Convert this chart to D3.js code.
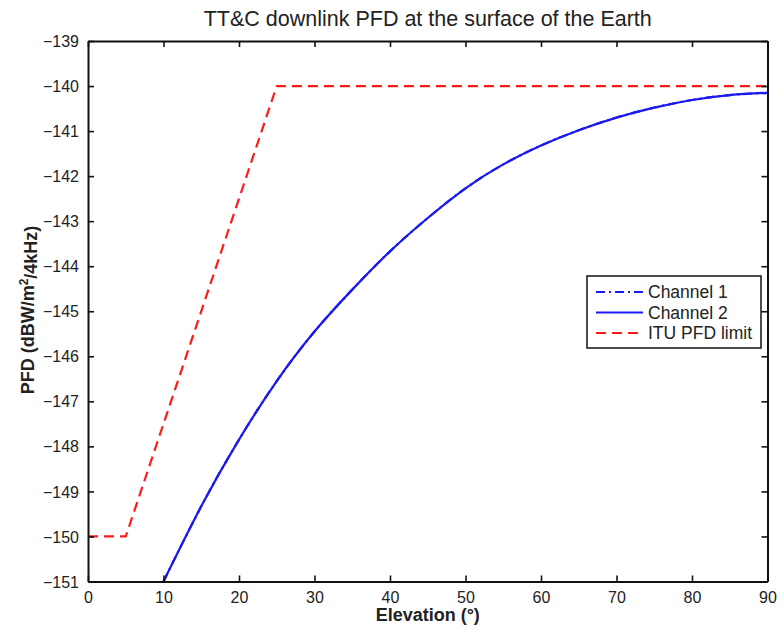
<!DOCTYPE html>
<html>
<head>
<meta charset="utf-8">
<script src="https://cdn.jsdelivr.net/npm/d3@7"></script>
<style>
  html, body { margin: 0; padding: 0; background: #ffffff; }
  svg { display: block; font-family: "Liberation Sans", Arial, Helvetica, sans-serif; }
</style>
</head>
<body>
<svg id="chart" width="781" height="629"></svg>
<script>
// ---- data ----
const elevation = [10, 15, 20, 25, 30, 35, 40, 45, 50, 55, 60, 65, 70, 75, 80, 85, 90];
const channel1 = [-151.0, -149.33, -147.85, -146.55, -145.45, -144.52, -143.67, -142.93, -142.27, -141.74, -141.32, -140.98, -140.70, -140.48, -140.31, -140.20, -140.15];
const channel2 = [-151.0, -149.33, -147.85, -146.55, -145.45, -144.52, -143.67, -142.93, -142.27, -141.74, -141.32, -140.98, -140.70, -140.48, -140.31, -140.20, -140.15];
const ituElevation = [0, 5, 25, 90];
const ituLimit = [-150, -150, -140, -140];
const xTicks = [0, 10, 20, 30, 40, 50, 60, 70, 80, 90];
const yTicks = [-139, -140, -141, -142, -143, -144, -145, -146, -147, -148, -149, -150, -151];
const legendLabels = ["Channel 1", "Channel 2", "ITU PFD limit"];

// ---- layout ----
const svg = d3.select("#chart");
const m = { left: 88, right: 767.5, top: 41, bottom: 581.5 };
const x = d3.scaleLinear().domain([0, 90]).range([m.left, m.right]);
const y = d3.scaleLinear().domain([-151, -139]).range([m.bottom, m.top]);
const fmt = d => String(d).replace("-", "\u2212");

svg.append("defs").append("clipPath").attr("id", "clip")
  .append("rect").attr("x", m.left).attr("y", m.top)
  .attr("width", m.right - m.left).attr("height", m.bottom - m.top);

// lines
const line = d3.line().x(d => x(d[0])).y(d => y(d[1]));
const smooth = d3.line().x(d => x(d[0])).y(d => y(d[1])).curve(d3.curveNatural);
const plot = svg.append("g").attr("clip-path", "url(#clip)");

plot.append("path").datum(ituElevation.map((e, i) => [e, ituLimit[i]]))
  .attr("d", line).attr("fill", "none").attr("stroke", "#ff1a1a")
  .attr("stroke-width", 2.2).attr("stroke-dasharray", "10,6");
plot.append("path").datum(elevation.map((e, i) => [e, channel1[i]]))
  .attr("d", smooth).attr("fill", "none").attr("stroke", "#1a1aee")
  .attr("stroke-width", 2.2).attr("stroke-dasharray", "9,4,2,4");
plot.append("path").datum(elevation.map((e, i) => [e, channel2[i]]))
  .attr("d", smooth).attr("fill", "none").attr("stroke", "#1a1aee")
  .attr("stroke-width", 2.2);

// axes (MATLAB style, inward ticks, box)
const tickLen = 6;
const axisColor = "#111";
const xb = svg.append("g").attr("transform", `translate(0,${m.bottom})`)
  .call(d3.axisBottom(x).tickValues(xTicks).tickSizeInner(-tickLen).tickSizeOuter(0).tickPadding(tickLen + 4).tickFormat(d => d));
const xt = svg.append("g").attr("transform", `translate(0,${m.top})`)
  .call(d3.axisTop(x).tickValues(xTicks).tickSizeInner(-tickLen).tickSizeOuter(0).tickFormat(""));
const yl = svg.append("g").attr("transform", `translate(${m.left},0)`)
  .call(d3.axisLeft(y).tickValues(yTicks).tickSizeInner(-tickLen).tickSizeOuter(0).tickPadding(tickLen + 3).tickFormat(fmt));
const yr = svg.append("g").attr("transform", `translate(${m.right},0)`)
  .call(d3.axisRight(y).tickValues(yTicks).tickSizeInner(-tickLen).tickSizeOuter(0).tickFormat(""));

[xb, xt, yl, yr].forEach(g => {
  g.select(".domain").attr("stroke", axisColor).attr("stroke-width", 2);
  g.selectAll(".tick line").attr("stroke", axisColor).attr("stroke-width", 1.6);
  g.selectAll(".tick text").attr("fill", "#222").style("font-size", "16px")
    .style("font-family", "'Liberation Sans', Arial, sans-serif");
});
xb.selectAll(".tick text").attr("dy", "0.71em");
yl.selectAll(".tick text").attr("dy", "0.35em");

// title and labels
svg.append("text").attr("x", (m.left + m.right) / 2).attr("y", 26)
  .attr("text-anchor", "middle").style("font-size", "21.5px").attr("fill", "#222")
  .text("TT&C downlink PFD at the surface of the Earth");

svg.append("text").attr("x", (m.left + m.right) / 2).attr("y", 621)
  .attr("text-anchor", "middle").style("font-size", "18px").style("font-weight", "bold").attr("fill", "#222")
  .text("Elevation (\u00B0)");

const yLab = svg.append("text")
  .attr("transform", `translate(34,310) rotate(-90)`)
  .attr("text-anchor", "middle").style("font-size", "18px").style("font-weight", "bold").attr("fill", "#222");
yLab.append("tspan").text("PFD (dBW/m");
yLab.append("tspan").attr("dy", "-0.5em").style("font-size", "12px").text("2");
yLab.append("tspan").attr("dy", "0.5em").text("/4kHz)");

// legend
const lg = svg.append("g");
lg.append("rect").attr("x", 587).attr("y", 276).attr("width", 174).attr("height", 72)
  .attr("fill", "#fff").attr("stroke", "#111").attr("stroke-width", 1.5);
const styles = [
  { color: "#1a1aee", dash: "9,4,2,4" },
  { color: "#1a1aee", dash: null },
  { color: "#ff1a1a", dash: "10,6" }
];
legendLabels.forEach((lab, i) => {
  const yy = 292 + i * 20.5;
  lg.append("line").attr("x1", 596).attr("x2", 643).attr("y1", yy).attr("y2", yy)
    .attr("stroke", styles[i].color).attr("stroke-width", 2.2)
    .attr("stroke-dasharray", styles[i].dash);
  lg.append("text").attr("x", 648).attr("y", yy).attr("dy", "0.35em")
    .style("font-size", "17.5px").attr("fill", "#222").text(lab);
});
</script>
</body>
</html>
